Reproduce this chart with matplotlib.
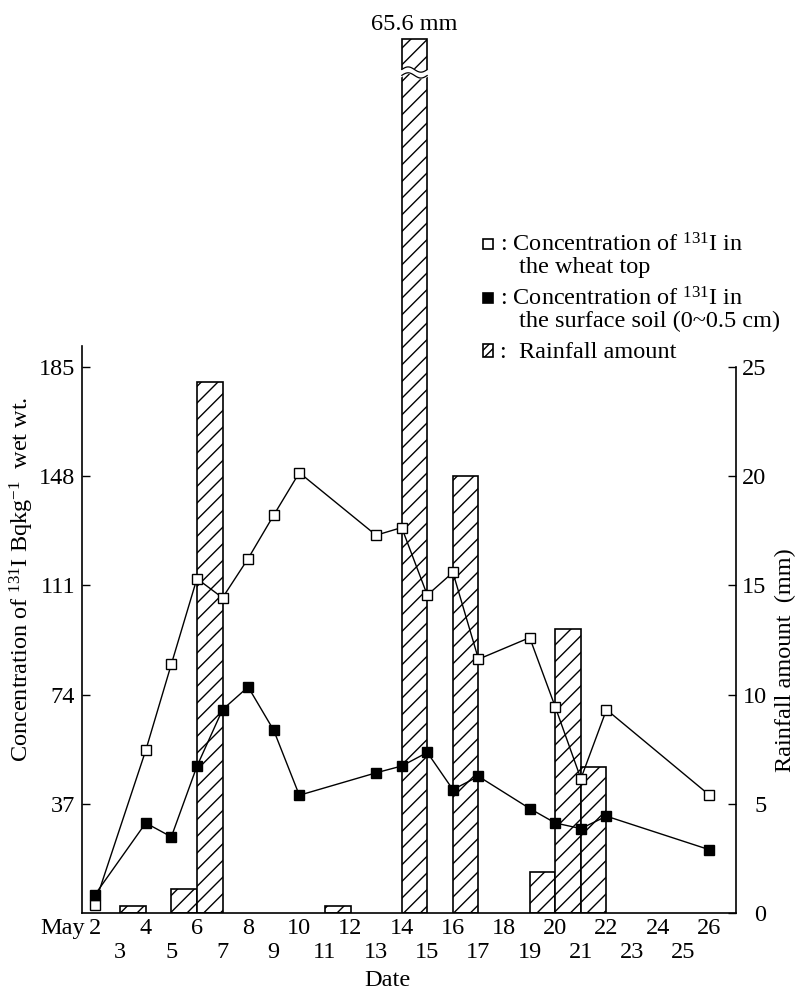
import numpy as np
import matplotlib.pyplot as plt
from matplotlib.patches import Rectangle

plt.rcParams['font.family'] = ['Liberation Serif', 'DejaVu Serif']
plt.rcParams['mathtext.fontset'] = 'custom'
plt.rcParams['mathtext.rm'] = 'Liberation Serif'
plt.rcParams['mathtext.it'] = 'Liberation Serif:italic'
plt.rcParams['hatch.linewidth'] = 1.0

# sampling days in May for both concentration series
days = [2, 4, 5, 6, 7, 8, 9, 10, 13, 14, 15, 16, 17, 19, 20, 21, 22, 26]
wheat_top = [2.8, 55.1, 84.3, 113.3, 106.8, 120.1, 134.8, 149.2, 128.0, 130.6,
             107.7, 115.4, 86.0, 93.3, 69.8, 45.5, 68.9, 40.1]
surface_soil = [6.0, 30.5, 25.8, 49.7, 68.9, 76.6, 61.9, 39.9, 47.5, 49.8,
                54.4, 41.8, 46.3, 35.4, 30.5, 28.6, 32.8, 21.5]

# daily rainfall, each bar covers rain_day .. rain_day + 1
rain_days = [3, 5, 6, 11, 14, 16, 19, 20, 21]
rain_mm = [0.3, 1.1, 24.3, 0.3, 65.6, 20.0, 1.9, 13.0, 6.7]

conc_ticks = [37, 74, 111, 148, 185]
rain_ticks = [0, 5, 10, 15, 20, 25]
label_days = list(range(2, 27))

W, H = 800, 991
FS = 17.5


def fx(x):
    return x / W


def fy(y):
    return 1 - y / H


fig = plt.figure(figsize=(W / 100, H / 100), dpi=100)

# plot box in pixels: left, right, bottom, top
x0, x1, y0, ytop = 82, 736, 913, 20
ax2 = fig.add_axes([fx(x0), fy(y0), (x1 - x0) / W, (y0 - ytop) / H])
ax = ax2.twinx()
ax.yaxis.tick_left()
ax.yaxis.set_label_position('left')
ax2.yaxis.tick_right()
ax2.yaxis.set_label_position('right')

px_per_mm = (y0 - 367) / 25
rain_top = (y0 - ytop) / px_per_mm
ax2.set_ylim(0, rain_top)
ax.set_ylim(0, rain_top * 185 / 25)
ax2.set_xlim(1.51, 27.06)

# rainfall bars, the very tall one is cut and broken
cap = 40
ax2.bar(rain_days, np.minimum(rain_mm, cap), width=1, align='edge',
        facecolor='white', edgecolor='black', hatch='//', linewidth=1.2, zorder=1)
big = int(np.argmax(rain_mm))
bx = np.linspace(rain_days[big] - 0.05, rain_days[big] + 1.05, 60)
wave = 0.12 * np.sin((bx - rain_days[big]) * 2 * np.pi)
ax2.fill_between(bx, 38.35 + wave, 38.62 + wave, color='white', zorder=3)
inside = (bx >= rain_days[big]) & (bx <= rain_days[big] + 1)
ax2.plot(bx[inside], 38.35 + wave[inside], color='black', lw=0.9, zorder=4)
ax2.plot(bx[inside], 38.62 + wave[inside], color='black', lw=0.9, zorder=4)
ax2.annotate('%.1f mm' % rain_mm[big], xy=(rain_days[big] + 0.5, cap),
             xytext=(0, 15), textcoords='offset pixels', ha='center', va='center',
             fontsize=FS, annotation_clip=False)

# concentration lines
ax.plot(days, wheat_top, color='black', lw=1, marker='s', ms=6.5,
        mfc='white', mec='black', mew=1, zorder=5)
ax.plot(days, surface_soil, color='black', lw=1, marker='s', ms=6.5,
        mfc='black', mec='black', zorder=5)

# spines
for a in (ax, ax2):
    a.spines['top'].set_visible(False)
ax.spines['right'].set_visible(False)
ax.spines['bottom'].set_visible(False)
ax2.spines['left'].set_visible(False)
ax.spines['left'].set_bounds(0, 192)
ax2.spines['right'].set_bounds(0, 25)
for a in (ax, ax2):
    for s in a.spines.values():
        s.set_linewidth(1.2)

ax.set_yticks(conc_ticks)
ax.tick_params(axis='y', direction='in', length=6, width=1, pad=5, labelsize=FS)
ax2.set_yticks(rain_ticks)
ax2.tick_params(axis='y', direction='in', length=6, width=1, pad=22, labelsize=FS)
for lab in ax2.get_yticklabels():
    lab.set_ha('right')
ax2.set_xticks([])
ax.set_xticks([])

# staggered date labels
for d in label_days:
    off = -21 if d % 2 == 0 else -45
    ax2.annotate(str(d), xy=(d, 0), xycoords=('data', 'axes fraction'),
                 xytext=(0, off), textcoords='offset pixels',
                 ha='center', va='baseline', fontsize=FS, annotation_clip=False)
ax2.annotate('May', xy=(label_days[0], 0), xycoords=('data', 'axes fraction'),
             xytext=(-10, -21), textcoords='offset pixels',
             ha='right', va='baseline', fontsize=FS, annotation_clip=False)
fig.text(fx(387), fy(986), 'Date', ha='center', va='baseline', fontsize=FS)

fig.text(fx(22), fy(579), 'Concentration of $^{\\mathrm{131}}$I Bqkg$^{-1}$  wet wt.',
         rotation=90, ha='center', va='center', fontsize=FS)
fig.text(fx(785), fy(660), 'Rainfall amount  (mm)',
         rotation=90, ha='center', va='center', fontsize=FS)

# legend drawn by hand
leg = [(251, 'open', ': Concentration of $^{\\mathrm{131}}$I in'),
       (273, None, 'the wheat top'),
       (305, 'filled', ': Concentration of $^{\\mathrm{131}}$I in'),
       (327, None, 'the surface soil (0~0.5 cm)'),
       (358, 'hatch', ':  Rainfall amount')]
for yb, sym, txt in leg:
    if sym is None:
        fig.text(fx(519), fy(yb), txt, ha='left', va='baseline', fontsize=FS)
        continue
    fig.text(fx(500), fy(yb), txt, ha='left', va='baseline', fontsize=FS)
    if sym == 'open':
        r = Rectangle((fx(483), fy(yb - 2)), 10 / W, 10 / H, facecolor='white',
                      edgecolor='black', lw=1.2, transform=fig.transFigure)
    elif sym == 'filled':
        r = Rectangle((fx(483), fy(yb - 2)), 10 / W, 10 / H, facecolor='black',
                      edgecolor='black', lw=1.2, transform=fig.transFigure)
    else:
        r = Rectangle((fx(483), fy(yb - 1)), 10 / W, 13 / H, facecolor='white',
                      edgecolor='black', lw=1.2, hatch='////', transform=fig.transFigure)
    fig.add_artist(r)

fig.savefig('out.png', dpi=100)
